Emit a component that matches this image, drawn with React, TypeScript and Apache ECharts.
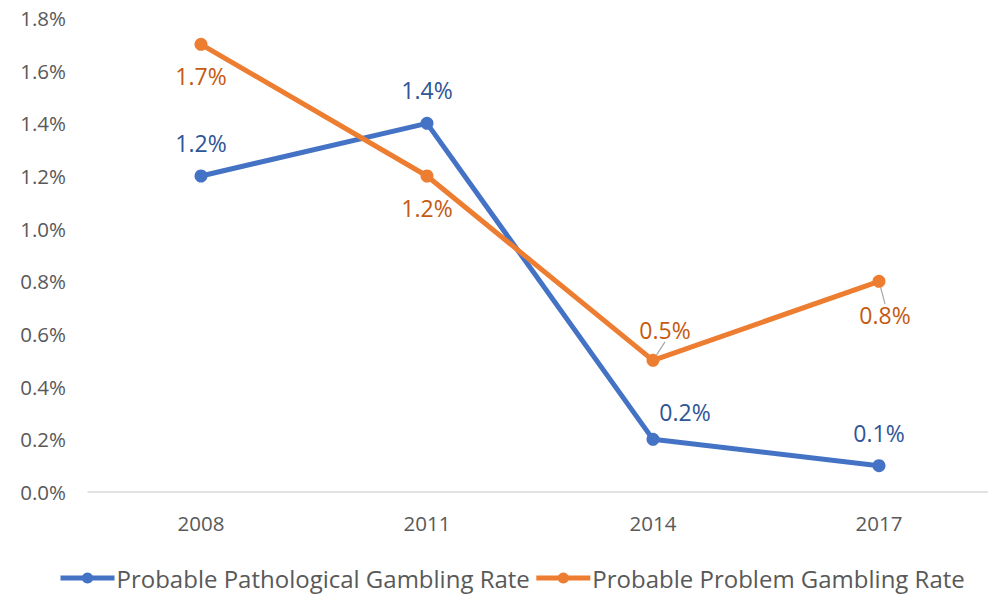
import React, { useEffect, useRef } from "react";
import * as echarts from "echarts";

const years = ["2008", "2011", "2014", "2017"];
const pathological = [1.2, 1.4, 0.2, 0.1];
const problem = [1.7, 1.2, 0.5, 0.8];
const yTicks = { min: 0, max: 1.8, interval: 0.2 };

const FONT = "'Open Sans', 'Noto Sans', sans-serif";

export default function App() {
  const ref = useRef<HTMLDivElement>(null);
  useEffect(() => {
    if (!ref.current) return;
    const chart = echarts.init(ref.current, null, { renderer: "svg" });
    const fmt = (p: any) => p.value.toFixed(1) + "%";
    chart.setOption({
      animation: false,
      backgroundColor: "#ffffff",
      textStyle: { fontFamily: FONT },
      grid: { left: 88, right: 4, top: 18, bottom: 103, containLabel: false },
      xAxis: {
        type: "category",
        data: years,
        boundaryGap: true,
        axisLine: { lineStyle: { color: "#d9d9d9", width: 1.5 } },
        axisTick: { show: false },
        axisLabel: { color: "#595959", fontSize: 20.5, margin: 20, fontFamily: FONT },
      },
      yAxis: {
        type: "value",
        min: yTicks.min,
        max: yTicks.max,
        interval: yTicks.interval,
        axisLine: { show: false },
        axisTick: { show: false },
        splitLine: { show: false },
        axisLabel: {
          color: "#595959",
          fontSize: 20.5,
          margin: 22,
          fontFamily: FONT,
          formatter: (v: number) => v.toFixed(1) + "%",
        },
      },
      legend: {
        bottom: 0,
        left: 53,
        width: 940,
        itemWidth: 54,
        itemHeight: 14,
        itemGap: 4,
        lineStyle: { width: 5 },
        textStyle: { color: "#595959", fontSize: 24, fontFamily: FONT, padding: [0, 0, 0, -3] },
        data: ["Probable Pathological Gambling Rate", "Probable Problem Gambling Rate"],
      },
      series: [
        {
          name: "Probable Pathological Gambling Rate",
          type: "line",
          data: pathological.map((v, i) => ({
            value: v,
            label: i === 2 ? { offset: [32, 6] } : undefined,
          })),
          color: "#4472C4",
          lineStyle: { width: 5, color: "#4472C4" },
          symbol: "circle",
          symbolSize: 13,
          label: {
            show: true,
            position: "top",
            distance: 15,
            color: "#2F5597",
            fontSize: 23,
            fontFamily: FONT,
            formatter: fmt,
          },
          z: 2,
        },
        {
          name: "Probable Problem Gambling Rate",
          type: "line",
          data: problem.map((v, i) => {
            if (i === 2)
              return {
                value: v,
                label: { position: "top", distance: 10 },
                labelLine: { show: true, lineStyle: { color: "#a6a6a6", width: 1.2 } },
              };
            if (i === 3)
              return {
                value: v,
                labelLine: { show: true, lineStyle: { color: "#a6a6a6", width: 1.2 } },
              };
            return { value: v };
          }),
          labelLayout: (p: any) => {
            if (p.dataIndex === 2) return { dx: 12, dy: -2 };
            if (p.dataIndex === 3) return { dx: 6, dy: 2 };
            return {};
          },
          color: "#ED7D31",
          lineStyle: { width: 5, color: "#ED7D31" },
          symbol: "circle",
          symbolSize: 13,
          label: {
            show: true,
            position: "bottom",
            distance: 14,
            color: "#C55A11",
            fontSize: 23,
            fontFamily: FONT,
            formatter: fmt,
          },
          z: 3,
        },
      ],
    });
    return () => chart.dispose();
  }, []);
  return (
    <div style={{ position: "absolute", left: 0, top: 0, width: 988, height: 595, overflow: "hidden" }}>
      <div ref={ref} style={{ width: 996, height: 595 }} />
    </div>
  );
}
